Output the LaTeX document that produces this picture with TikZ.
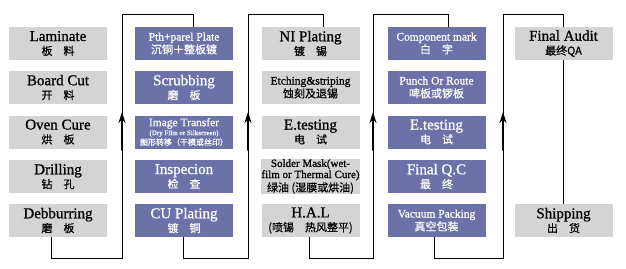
\documentclass[tikz,border=0pt]{standalone}
\usepackage{fontspec}
\setmainfont{Liberation Serif}[FakeBold=0.9]
\newfontfamily\cjk{Noto Sans CJK SC}[FakeBold=0.6]
\usetikzlibrary{arrows.meta}
\definecolor{boxgrey}{RGB}{212,212,212}
\definecolor{boxblue}{RGB}{108,114,168}
\newcommand\zh[1]{{\cjk\fontsize{11}{12}\selectfont #1}}
\newcommand\zhs[1]{{\cjk\fontsize{8}{9}\selectfont #1}}
\begin{document}
\begin{tikzpicture}[x=1pt,y=-1pt,line cap=round,
	flowbox/.style={minimum width=98pt,minimum height=33pt,inner sep=0pt,align=center,font=\fontsize{15}{14}\selectfont},
	greybox/.style={flowbox,fill=boxgrey,text=black},
	bluebox/.style={flowbox,fill=boxblue,text=white},
	small/.style={font=\fontsize{11.5}{13}\selectfont},
	link/.style={line width=0.8pt},
	uparrow/.style={line width=1.8pt,-{Stealth[length=11pt,width=7pt]}}]
	\useasboundingbox (0,0) rectangle (626,268);
	% first column
	\node[greybox] (lam) at (58,43.5) {Laminate\\\zh{板\quad 料}};
	\node[greybox] (cut) at (58,87.5) {Board Cut\\\zh{开\quad 料}};
	\node[greybox] (oven) at (58,132) {Oven Cure\\\zh{烘\quad 板}};
	\node[greybox] (drill) at (58,176.5) {Drilling\\\zh{钻\quad 孔}};
	\node[greybox] (deb) at (58,220.5) {Debburring\\\zh{磨\quad 板}};
	% second column
	\node[bluebox,small] (pth) at (184,43.5) {Pth+parel Plate\\\zh{沉铜＋整板镀}};
	\node[bluebox] (scrub) at (184,87.5) {Scrubbing\\\zh{磨\quad 板}};
	\node[bluebox,small] (image) at (184,132) {Image Transfer\\[-4pt]{\fontsize{7}{8}\selectfont(Dry Film or Silkscreen)}\\[-3pt]\zhs{图形转移（干模或丝印）}};
	\node[bluebox] (insp) at (184,176.5) {Inspecion\\\zh{检\quad 查}};
	\node[bluebox] (cuplate) at (184,220.5) {CU Plating\\\zh{镀\quad 铜}};
	% third column
	\node[greybox] (ni) at (310.5,43.5) {NI Plating\\\zh{镀\quad 锡}};
	\node[greybox,small] (etch) at (310.5,87.5) {Etching\&striping\\\zh{蚀刻及退锡}};
	\node[greybox] (etest) at (310.5,132) {E.testing\\\zh{电\quad 试}};
	\node[greybox,font=\fontsize{11}{8.5}\selectfont] (solder) at (310.5,176.5) {Solder Mask(wet-\\film or Thermal Cure)\\[1pt]\zh{绿油 (湿膜或烘油)}};
	\node[greybox] (hal) at (310.5,220.5) {H.A.L\\\zh{(喷锡\quad 热风整平)}};
	% fourth column
	\node[bluebox,small] (comp) at (436.5,43.5) {Component mark\\\zh{白\quad 字}};
	\node[bluebox,small] (punch) at (436.5,87.5) {Punch Or Route\\\zh{啤板或锣板}};
	\node[bluebox] (etestb) at (436.5,132) {E.testing\\\zh{电\quad 试}};
	\node[bluebox] (fqc) at (436.5,176.5) {Final Q.C\\\zh{最\quad 终}};
	\node[bluebox,small] (vac) at (436.5,220.5) {Vacuum Packing\\\zh{真空包装}};
	% last column
	\node[greybox] (audit) at (563.5,43.5) {Final Audit\\\zh{最终QA}};
	\node[greybox] (ship) at (563.5,220.5) {Shipping\\\zh{出\quad 货}};
	% links between columns
	\draw[link] ([xshift=-7pt]deb.south) -- ++(0,21) -| (122,14) -| ([xshift=9pt]pth.north);
	\draw[link] ([xshift=-1pt]cuplate.south) -- ++(0,21) -| (248,14) -| ([xshift=12.5pt]ni.north);
	\draw[link] ([xshift=-1.5pt]hal.south) -- ++(0,21) -| (373,14) -| ([xshift=11.5pt]comp.north);
	\draw[link] ([xshift=-2.5pt]vac.south) -- ++(0,21) -| (503,14) -| (audit.north);
	\draw[link] (audit.south) -- (ship.north);
	\foreach \x in {122,248,373,503}
		\draw[uparrow] (\x,150) -- (\x,112);
\end{tikzpicture}
\end{document}
